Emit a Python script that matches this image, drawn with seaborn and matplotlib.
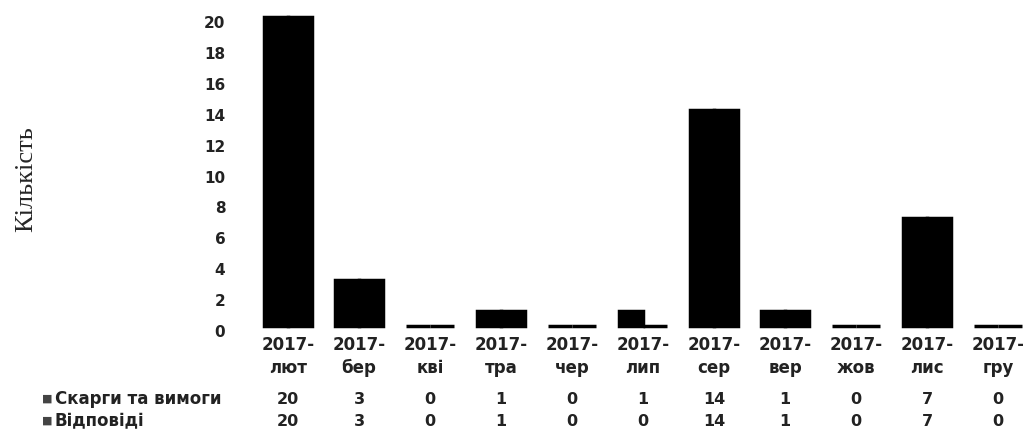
import matplotlib
matplotlib.use("Agg")
import matplotlib.pyplot as plt
import matplotlib.transforms as mtransforms
import pandas as pd
import seaborn as sns

months = ["лют", "бер", "кві", "тра", "чер", "лип", "сер", "вер", "жов", "лис", "гру"]
categories = ["2017-\n" + m for m in months]
complaints = [20, 3, 0, 1, 0, 1, 14, 1, 0, 7, 0]
answers = [20, 3, 0, 1, 0, 0, 14, 1, 0, 7, 0]
series_names = ["Скарги та вимоги", "Відповіді"]
yticks = list(range(0, 21, 2))

df = pd.DataFrame({
    "cat": categories * 2,
    "value": complaints + answers,
    "series": [series_names[0]] * len(categories) + [series_names[1]] * len(categories),
})

sns.set_style("white")
plt.rcParams["font.family"] = ["DejaVu Sans"]

W, H = 1023, 436
fig = plt.figure(figsize=(W / 100, H / 100), dpi=100)
# axes: left edge 235px, baseline at y=326px, value 20 at y=17px
ax = fig.add_axes([235 / W, 1 - 326 / H, 1 - 235 / W, (326 - 17) / H])

sns.barplot(data=df, x="cat", y="value", hue="series", palette=["black", "black"],
            width=0.68, gap=0, dodge=True, legend=False, ax=ax, errorbar=None,
            edgecolor="black", linewidth=2.5)
# zero-valued bars show up as flat slabs, keep their edge unclipped
for p in ax.patches:
    p.set_clip_on(False)

ax.set_xlim(-0.746, 10.35)
ax.set_ylim(0, 20)
ax.set_yticks(yticks)
ax.set_yticklabels([str(t) for t in yticks], fontsize=11, fontweight="bold", color="#222222")
ax.tick_params(axis="y", length=0, pad=7)
# tick labels sit a bit lower than the bar tops in the original
for lab in ax.get_yticklabels():
    lab.set_transform(lab.get_transform() + mtransforms.ScaledTranslation(0, -5 / 100, fig.dpi_scale_trans))
ax.set_xticks(range(len(categories)))
ax.set_xticklabels(categories, fontsize=12, fontweight="bold", linespacing=1.35, color="#222222")
ax.tick_params(axis="x", length=0, pad=7)
ax.set_xlabel("")
ax.set_ylabel("")
sns.despine(ax=ax, left=True, bottom=True)

fig.text(26 / W, 1 - 179 / H, "Кількість", rotation=90, ha="center", va="center",
         fontsize=19, family=["Liberation Serif", "DejaVu Serif"])

# data table rows under the chart
trans = mtransforms.blended_transform_factory(ax.transData, fig.transFigure)
for row, (name, vals) in enumerate(zip(series_names, [complaints, answers])):
    y = 1 - (399 + row * 22) / H
    fig.text(42 / W, y, "■", ha="left", va="center", fontsize=8, color="#444444")
    fig.text(55 / W, y, name, ha="left", va="center", fontsize=12, fontweight="bold",
             color="#222222")
    for i, v in enumerate(vals):
        ax.text(i, y, str(v), transform=trans, ha="center", va="center",
                fontsize=11.5, fontweight="bold", color="#222222")

fig.savefig("out.png", dpi=100)
